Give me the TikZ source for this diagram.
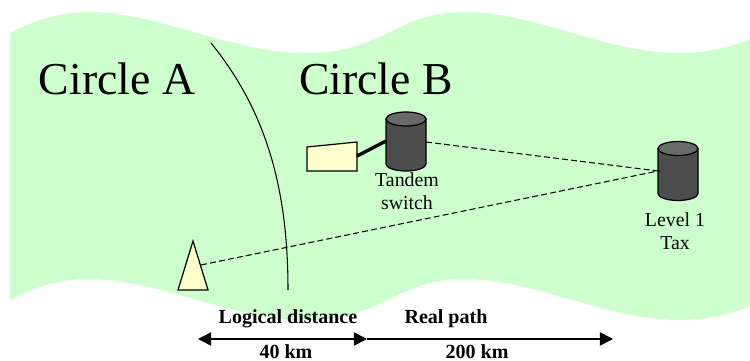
\documentclass[tikz,border=0pt]{standalone}
\usepackage{fontspec}
\setmainfont{Liberation Serif}
\usetikzlibrary{arrows.meta}
\definecolor{circlegreen}{HTML}{CCFFCC}
\definecolor{siteyellow}{HTML}{FFFFCC}
\definecolor{drumbody}{HTML}{4D4D4D}
\definecolor{drumtop}{HTML}{696969}
\tikzset{
  drumbox/.style={minimum width=.8cm, minimum height=1.18cm, inner sep=0pt, outer sep=0pt},
  drumline/.style={draw, line width=.7pt},
  site/.style={draw, line width=.7pt, fill=siteyellow},
  link/.style={dashed, dash pattern=on 3.4pt off 1.8pt, line width=.6pt},
  bigname/.style={font=\fontsize{26}{28}\selectfont, inner sep=0pt},
  caption/.style={font=\fontsize{11.3}{13}\selectfont, inner sep=0pt, align=center},
  scalelabel/.style={font=\fontsize{11.4}{13}\selectfont\bfseries, inner sep=0pt},
  scalearrow/.style={line width=.9pt}
}
\newcommand{\drawdrum}[1]{%
  \path[drumline, fill=drumbody] ([yshift=-.14cm]#1.north west)
    -- ([yshift=.14cm]#1.south west) arc[start angle=180, end angle=360, x radius=.4cm, y radius=.14cm]
    -- ([yshift=-.14cm]#1.north east) -- cycle;
  \path[drumline, fill=drumtop] ([yshift=-.14cm]#1.north) ellipse[x radius=.4cm, y radius=.14cm];
}
\begin{document}
\begin{tikzpicture}[x=.02cm, y=-.02cm]
  \useasboundingbox (0,0) rectangle (750,361);

  % the green band
  \fill[circlegreen] (10,33) .. controls (35,20) and (60,12) .. (88,12)
    .. controls (160,12) and (230,53) .. (306,53)
    .. controls (385,53) and (395,12) .. (464,12)
    .. controls (536,12) and (605,53) .. (680,53)
    .. controls (705,53) and (730,48) .. (750,39)
    -- (750,306) .. controls (730,315) and (705,320) .. (680,320)
    .. controls (605,320) and (536,279) .. (464,279)
    .. controls (395,279) and (385,320) .. (306,320)
    .. controls (230,320) and (160,279) .. (88,279)
    .. controls (60,279) and (35,287) .. (10,300) -- cycle;

  \coordinate (arcT) at (211,43);
  \coordinate (arcB) at (288,290);
  \draw[line width=.6pt] (arcT) .. controls (267,112) and (288,190) .. (arcB);

  \node[bigname] (circleA) at (117,79) {Circle A};
  \node[bigname] (circleB) at (376,79) {Circle B};

  \node[drumbox] (tandem) at (406,141.5) {};
  \node[drumbox] (tax) at (678,171) {};
  \drawdrum{tandem}
  \drawdrum{tax}
  \node[caption] (tandemlabel) at (407,191) {Tandem\\switch};
  \node[caption] (taxlabel) at (675,231) {Level 1\\Tax};

  \coordinate (P1) at (307,147);
  \coordinate (P2) at (357,142);
  \coordinate (P3) at (357,171);
  \coordinate (P4) at (307,171);
  \draw[site] (P1)--(P2)--(P3)--(P4)--cycle;

  \coordinate (T1) at (193,241);
  \coordinate (T2) at (208,290);
  \coordinate (T3) at (178,290);
  \draw[site] (T1)--(T2)--(T3)--cycle;

  \coordinate (S) at (357,156);
  \coordinate (Sw) at (386,141);
  \coordinate (Se) at (426,142);
  \coordinate (Tw) at (658,171);
  \coordinate (R) at (201,265);
  \draw[line width=1.9pt] (S)--(Sw);
  \draw[link] (Se)--(Tw)--(R);

  \coordinate (M0) at (198,339);
  \coordinate (M1) at (367,339);
  \coordinate (M2) at (613,339);
  \draw[scalearrow, {Triangle[length=7.5pt,width=7.5pt]}-{Triangle[length=7.5pt,width=7.5pt]}] (M0)--(M1);
  \draw[scalearrow, -{Triangle[length=7.5pt,width=7.5pt]}] (M1)--(M2);

  \node[scalelabel] (logical) at (288,319) {Logical distance};
  \node[scalelabel] (realpath) at (446,319) {Real path};
  \node[scalelabel] (km40) at (286,352) {40 km};
  \node[scalelabel] (km200) at (477,352) {200 km};
\end{tikzpicture}
\end{document}
